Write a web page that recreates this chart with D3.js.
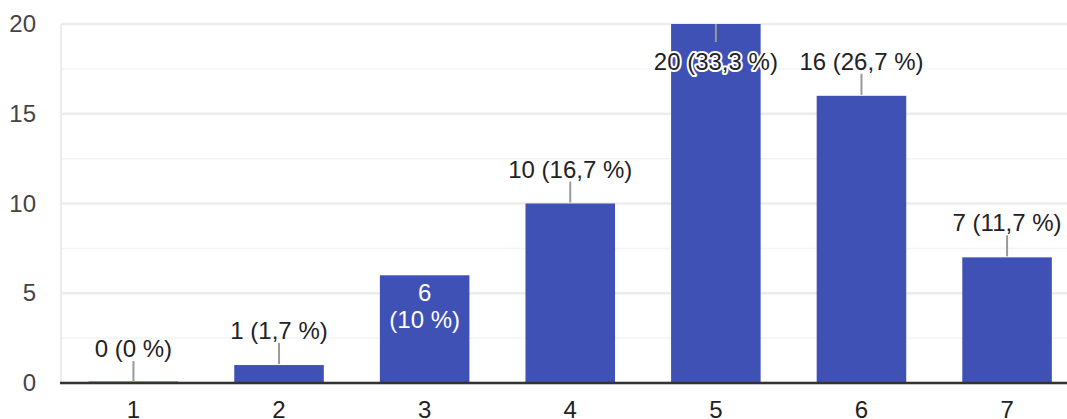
<!DOCTYPE html>
<html>
<head>
<meta charset="utf-8">
<script src="https://cdn.jsdelivr.net/npm/d3@7"></script>
<style>
  body { margin: 0; padding: 0; background: #fff; overflow: hidden; }
  svg { display: block; font-family: "Liberation Sans", Arial, sans-serif; }
</style>
</head>
<body>
<div id="main"></div>
<script>
const categories = ['1', '2', '3', '4', '5', '6', '7'];
const counts = [0, 1, 6, 10, 20, 16, 7];
const percents = ['0 %', '1,7 %', '10 %', '16,7 %', '33,3 %', '26,7 %', '11,7 %'];
const yTicks = [0, 5, 10, 15, 20];
const yMinorTicks = [2.5, 7.5, 12.5, 17.5];

const WIDTH = 1067;
const HEIGHT = 419;
const LEFT = 61;
const TOP = 24;
const BOTTOM = 383;
const STEP = 145.5;
const FONT = 24;
const FAMILY = '"Liberation Sans", Arial, sans-serif';

const svg = d3.select('#main').append('svg').attr('width', WIDTH).attr('height', HEIGHT);

const scaleX = d3.scaleBand().domain(categories).range([LEFT, LEFT + STEP * categories.length]).paddingInner(0.385).paddingOuter(0.19);
const scaleY = d3.scaleLinear().domain([0, 20]).range([BOTTOM, TOP]);

// gridlines
svg.append('g').selectAll('line').data(yMinorTicks).enter().append('line')
    .attr('x1', LEFT).attr('x2', WIDTH)
    .attr('y1', (d) => scaleY(d)).attr('y2', (d) => scaleY(d))
    .attr('stroke', '#f4f4f4').attr('stroke-width', 1.5);
svg.append('g').selectAll('line').data(yTicks).enter().append('line')
    .attr('x1', LEFT).attr('x2', WIDTH)
    .attr('y1', (d) => scaleY(d)).attr('y2', (d) => scaleY(d))
    .attr('stroke', '#ececec').attr('stroke-width', 2.5);
svg.append('line').attr('x1', LEFT).attr('x2', LEFT).attr('y1', TOP).attr('y2', BOTTOM)
    .attr('stroke', '#ececec').attr('stroke-width', 2);

// y axis labels
const axisY = d3.axisLeft(scaleY).tickValues(yTicks).tickSize(0).tickPadding(25);
const gy = svg.append('g').attr('transform', `translate(${LEFT}, 0)`).call(axisY);
gy.select('.domain').remove();
gy.selectAll('text').attr('font-size', FONT).attr('fill', '#444').attr('font-family', FAMILY);

// bars
svg.append('g').selectAll('rect').data(counts).enter().append('rect')
    .attr('x', (d, i) => scaleX(categories[i]))
    .attr('width', scaleX.bandwidth())
    .attr('y', (d) => d === 0 ? scaleY(0) - 2 : scaleY(d))
    .attr('height', (d) => d === 0 ? 1 : scaleY(0) - scaleY(d))
    .attr('fill', (d) => d === 0 ? '#9fa8da' : '#3f51b5');

// baseline + x axis
const axisX = d3.axisBottom(scaleX).tickSize(0).tickPadding(18);
const gx = svg.append('g').attr('transform', `translate(0, ${BOTTOM})`).call(axisX);
gx.select('.domain').remove();
gx.selectAll('text').attr('font-size', FONT).attr('fill', '#222').attr('font-family', FAMILY);
svg.append('line').attr('x1', LEFT - 1).attr('x2', WIDTH).attr('y1', BOTTOM).attr('y2', BOTTOM)
    .attr('stroke', '#333').attr('stroke-width', 2.5);

// annotations
const wrapInside = ['3'];
const labels = svg.append('g').attr('font-size', FONT).attr('text-anchor', 'middle').attr('font-family', FAMILY);
counts.forEach((c, i) => {
    const cat = categories[i];
    const cx = scaleX(cat) + scaleX.bandwidth() / 2;
    const top = scaleY(c);
    const text = `${c} (${percents[i]})`;
    if (wrapInside.includes(cat)) {
        labels.append('text').attr('x', cx).attr('y', top + 26).attr('fill', '#fff').text(`${c}`);
        labels.append('text').attr('x', cx).attr('y', top + 53).attr('fill', '#fff').text(`(${percents[i]})`);
    } else if (top - 46 < 0) {
        labels.append('line').attr('x1', cx).attr('x2', cx).attr('y1', top).attr('y2', top + 18)
            .attr('stroke', '#999').attr('stroke-width', 2);
        labels.append('text').attr('x', cx).attr('y', top + 46).attr('fill', '#222')
            .attr('stroke', '#fff').attr('stroke-width', 4).attr('paint-order', 'stroke')
            .attr('stroke-linejoin', 'round').text(text);
    } else {
        labels.append('line').attr('x1', cx).attr('x2', cx).attr('y1', top - 1).attr('y2', top - 22)
            .attr('stroke', '#999').attr('stroke-width', 2);
        labels.append('text').attr('x', cx).attr('y', top - 26).attr('fill', '#222').text(text);
    }
});
</script>
</body>
</html>
